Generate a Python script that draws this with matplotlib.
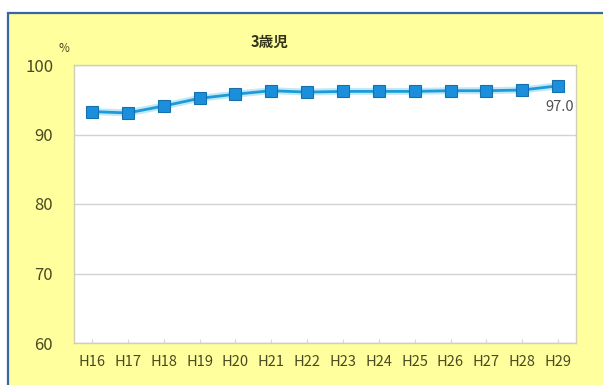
import matplotlib
matplotlib.use("Agg")
import matplotlib.pyplot as plt
from matplotlib.patches import Rectangle

plt.rcParams['font.family'] = ['Noto Sans CJK JP', 'DejaVu Sans']

years = ["H16", "H17", "H18", "H19", "H20", "H21", "H22",
         "H23", "H24", "H25", "H26", "H27", "H28", "H29"]
rates = [93.3, 93.1, 94.1, 95.2, 95.8, 96.3, 96.1,
         96.2, 96.2, 96.2, 96.3, 96.3, 96.4, 97.0]
y_ticks = [60, 70, 80, 90, 100]
title = "3歳児"

W, H = 603, 385
fig = plt.figure(figsize=(W / 100, H / 100), dpi=100)
fig.patch.set_facecolor("white")

# yellow chart frame with a blue edge, kept behind the axes
frame = Rectangle((8 / W, -0.02), 1.0, (H - 13) / H + 0.02, transform=fig.transFigure,
                  facecolor="#FFFF9E", edgecolor="#3A64A8", linewidth=1.6, zorder=-1)
fig.patches.append(frame)

ax = fig.add_axes([74 / W, (H - 343) / H, (576 - 74) / W, (343 - 65) / H])
ax.set_facecolor("white")
x = list(range(len(years)))

# soft halo under the line
ax.plot(x, rates, color="#BFE8FA", linewidth=5, solid_capstyle="round", zorder=2)
ax.plot(x, rates, color="#1E9AD6", linewidth=2, zorder=3,
        marker="s", markersize=9, markerfacecolor="#1B8FDB",
        markeredgecolor="#1670B0", markeredgewidth=0.8)

ax.set_xlim(-0.5, len(years) - 0.5)
ax.set_ylim(60, 100)
ax.set_yticks(y_ticks)
ax.set_xticks(x)
ax.set_xticklabels(years)
ax.yaxis.grid(True, color="#D2D2D2", linewidth=1)
ax.set_axisbelow(True)
ax.tick_params(axis="y", length=0, pad=15, labelsize=12, labelcolor="#4A4A22")
ax.tick_params(axis="x", direction="in", length=3, color="#D8D8D8",
               pad=9, labelsize=10.5, labelcolor="#4A4A22")
for side in ["top", "right", "bottom", "left"]:
    ax.spines[side].set_color("#D0D0B8")
    ax.spines[side].set_linewidth(1)

ax.annotate(f"{rates[-1]:.1f}", (x[-1], rates[-1]), xytext=(1, -15),
            textcoords="offset points", ha="center", va="center",
            fontsize=10.5, color="#505050")

fig.text(64 / W, 1 - 49 / H, "%", fontsize=8.5, color="#4A4A22", ha="center", va="center")
fig.text(270 / W, 1 - 42 / H, title, fontsize=10.5, fontweight="bold",
         color="#333318", ha="center", va="center")

fig.savefig("out.png", dpi=100)
